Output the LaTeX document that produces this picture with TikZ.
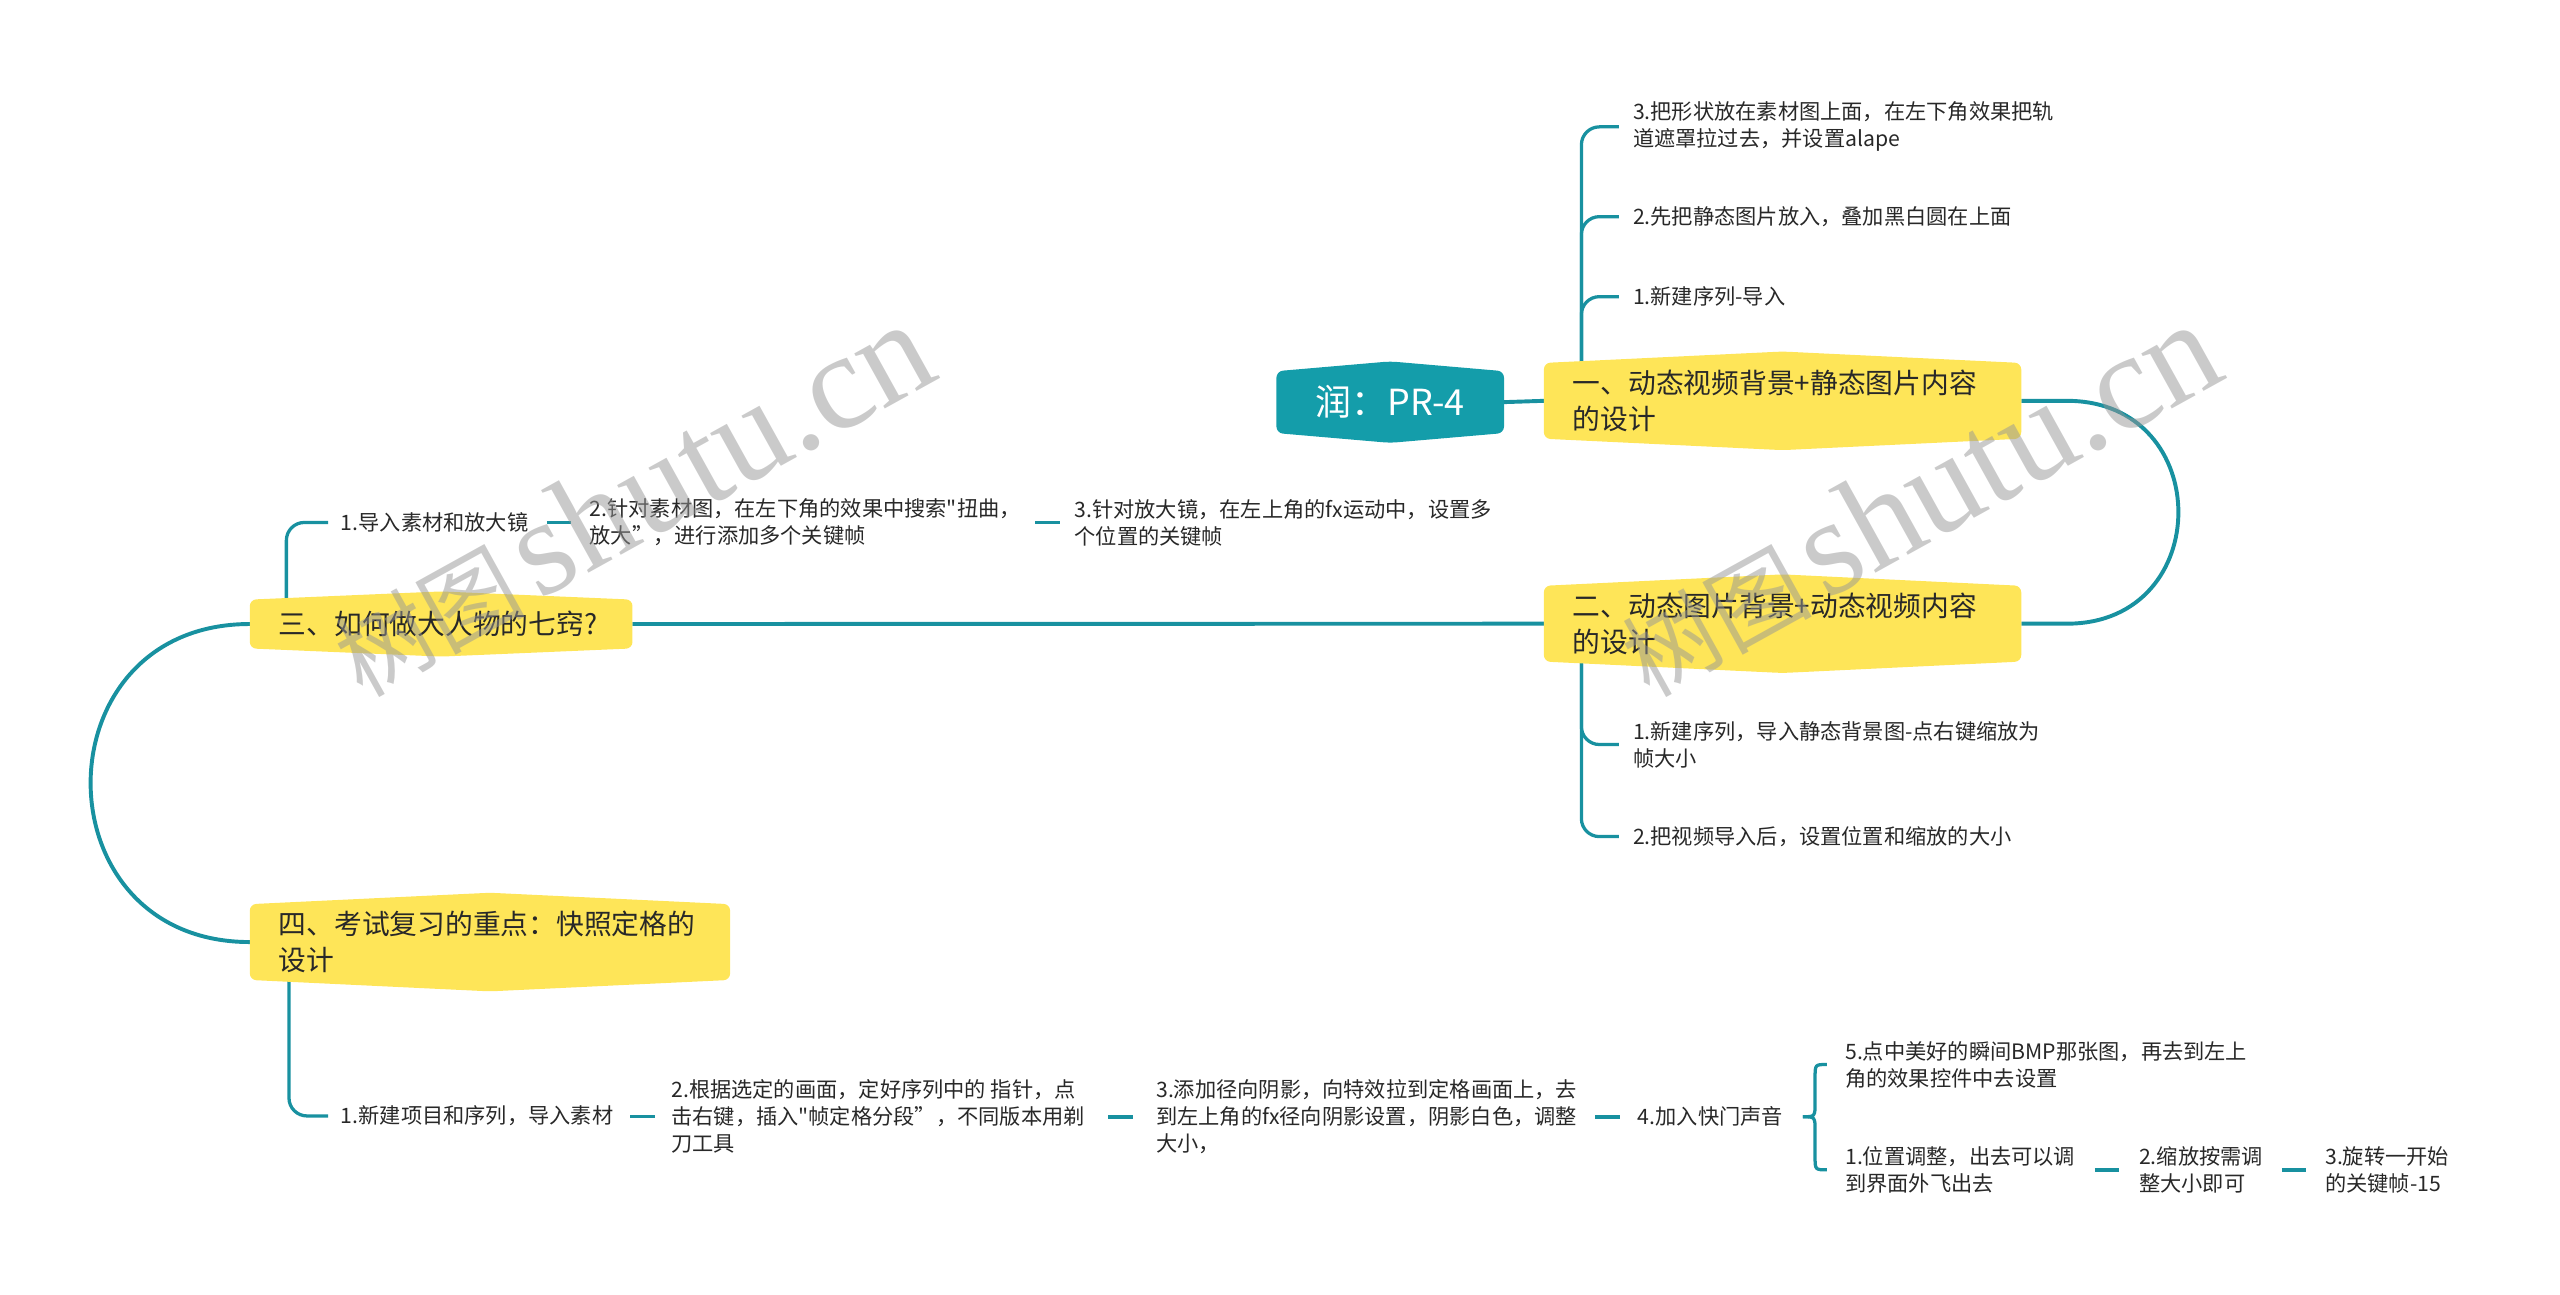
\documentclass[tikz,border=0pt]{standalone}
\usepackage{fontspec}
\setmainfont{Noto Sans CJK SC}[Ligatures=TeXOff]
\newfontfamily\wmcjk{Noto Sans CJK SC}
\newfontfamily\wmlat{Liberation Serif}
\usetikzlibrary{calc}
\pgfdeclarelayer{lyrA}
\pgfdeclarelayer{lyrB}
\pgfsetlayers{lyrA,lyrB,main}
\definecolor{teal1}{RGB}{24,145,160}
\definecolor{rootc}{RGB}{20,157,170}
\definecolor{yel}{RGB}{254,229,88}
\definecolor{txt}{RGB}{40,40,40}
\definecolor{wmc}{RGB}{150,150,150}
\newcommand\fmain{\fontsize{17}{22.4}\selectfont}
\newcommand\fleaf{\fontsize{13}{16.5}\selectfont}
\newcommand\froot{\fontsize{22}{26}\selectfont}
\newcommand\hexfill[3]{\fill[#2, rounded corners=4pt] (#1.north west) -- ($(#1.north)+(0,-#3)$) -- (#1.north east) -- (#1.south east) -- ($(#1.south)+(0,#3)$) -- (#1.south west) -- cycle;}
\newcommand\dsh[2]{\draw[dashc] ($(#1.east)!0.5!(#2.west)+(-7.5,0)$) -- ($(#1.east)!0.5!(#2.west)+(7.5,0)$);}
\begin{document}
\begin{tikzpicture}[x=1pt, y=-1pt,
  mainbox/.style={anchor=west, inner xsep=17.6pt, inner ysep=0pt, minimum height=46pt, align=left, text=txt, font=\fmain},
  leaf/.style={anchor=west, inner sep=0pt, align=left, text=txt, font=\fleaf},
  mline/.style={draw=teal1, line width=2.4pt},
  bline/.style={draw=teal1, line width=2pt, rounded corners=11pt},
  dline/.style={draw=teal1, line width=2pt},
  dashc/.style={draw=teal1, line width=2.2pt},
  wm/.style={rotate=29, anchor=base west, inner sep=0pt, text=wmc, opacity=0.5}]
\useasboundingbox (0,0) rectangle (1568,793);

% main nodes
\node[font=\froot, text=white, minimum width=139pt, minimum height=37.5pt, inner sep=0pt] (root) at (851.5,246.3) {润：PR-4};
\node[mainbox, text width=256.8pt] (n1) at (945.6,245.5) {一、动态视频背景+静态图片内容\\的设计};
\node[mainbox, text width=256.8pt] (n2) at (945.6,382) {二、动态图片背景+动态视频内容\\的设计};
\node[mainbox, text width=198.8pt, minimum height=29.5pt] (n3) at (153,382.2) {三、如何做大人物的七窍?};
\node[mainbox, text width=258.6pt] (n4) at (153,577) {四、考试复习的重点：快照定格的\\设计};

% leaves
\node[leaf] (c13) at (1000,77.7) {3.把形状放在素材图上面，在左下角效果把轨\\道遮罩拉过去，并设置alape};
\node[leaf] (c12) at (1000,132.7) {2.先把静态图片放入，叠加黑白圆在上面};
\node[leaf] (c11) at (1000,181.7) {1.新建序列-导入};
\node[leaf] (c21) at (1000,456) {1.新建序列，导入静态背景图-点右键缩放为\\帧大小};
\node[leaf] (c22) at (1000,512.4) {2.把视频导入后，设置位置和缩放的大小};
\node[leaf] (c31) at (208.6,320) {1.导入素材和放大镜};
\node[leaf] (c32) at (361,320) {2.针对素材图，在左下角的效果中搜索"扭曲，\\放大”，进行添加多个关键帧};
\node[leaf] (c33) at (658,320) {3.针对放大镜，在左上角的fx运动中，设置多\\个位置的关键帧};
\node[leaf] (c41) at (208.6,683.5) {1.新建项目和序列，导入素材};
\node[leaf] (c42) at (411,684) {2.根据选定的画面，定好序列中的 指针，点\\击右键，插入"帧定格分段”，不同版本用剃\\刀工具};
\node[leaf] (c43) at (708,684) {3.添加径向阴影，向特效拉到定格画面上，去\\到左上角的fx径向阴影设置，阴影白色，调整\\大小，};
\node[leaf] (c44) at (1003,684) {4.加入快门声音};
\node[leaf] (c45) at (1130,652) {5.点中美好的瞬间BMP那张图，再去到左上\\角的效果控件中去设置};
\node[leaf] (c46) at (1130,716.5) {1.位置调整，出去可以调\\到界面外飞出去};
\node[leaf] (c47) at (1310,716.5) {2.缩放按需调\\整大小即可};
\node[leaf] (c48) at (1424,716.5) {3.旋转一开始\\的关键帧-15};

\begin{pgfonlayer}{lyrA}
\draw[mline] (root.east) -- (n1.west);
\draw[mline] (n1.east) -- ($(n1.east)+(28,0)$) .. controls ($(n1.east)+(119,0)$) and ($(n2.east)+(119,0)$) .. ($(n2.east)+(28,0)$) -- (n2.east);
\draw[mline] (n2.west) -- (n3.east);
\draw[mline] (n3.west) .. controls ($(n3.west)+(-130,0)$) and ($(n4.west)+(-130,0)$) .. (n4.west);
\coordinate (t1) at ($(n1.west)+(23,0)$);
\coordinate (t2) at ($(n2.west)+(23,0)$);
\coordinate (t3) at ($(n3.west)+(22.4,0)$);
\coordinate (t4) at ($(n4.west)+(24,0)$);
\draw[bline] (t1) |- ($(c13.west)+(-8.5,0)$);
\draw[bline] (t1) |- ($(c12.west)+(-8.5,0)$);
\draw[bline] (t1) |- ($(c11.west)+(-8.5,0)$);
\draw[bline] (t2) |- ($(c21.west)+(-8.5,0)$);
\draw[bline] (t2) |- ($(c22.west)+(-8.5,0)$);
\draw[bline] (t3) |- ($(c31.west)+(-7.6,0)$);
\draw[bline] (t4) |- ($(c41.west)+(-7.6,0)$);
\end{pgfonlayer}

\dsh{c31}{c32}
\dsh{c32}{c33}
\dsh{c41}{c42}
\dsh{c42}{c43}
\dsh{c43}{c44}
\dsh{c46}{c47}
\dsh{c47}{c48}

\coordinate (bt) at ($(c44.east)+(12,0)$);
\draw[dline] (bt) .. controls ($(bt)+(7.5,0)$) .. ($(bt)+(7.5,-9)$) -- ($(bt |- c45.west)+(7.5,8)$) .. controls ($(bt |- c45.west)+(7.5,0)$) .. ($(c45.west)+(-11,0)$);
\draw[dline] (bt) .. controls ($(bt)+(7.5,0)$) .. ($(bt)+(7.5,9)$) -- ($(bt |- c46.west)+(7.5,-8)$) .. controls ($(bt |- c46.west)+(7.5,0)$) .. ($(c46.west)+(-11,0)$);

\begin{pgfonlayer}{lyrB}
\hexfill{root}{rootc}{6}
\hexfill{n1}{yel}{7}
\hexfill{n2}{yel}{7}
\hexfill{n3}{yel}{5}
\hexfill{n4}{yel}{7}
\end{pgfonlayer}

% watermarks
\node[wm] (wm1) at (222,428) {{\wmcjk\fontsize{58}{58}\selectfont 树图}\hspace{8pt}{\wmlat\fontsize{84}{84}\selectfont shutu.cn}};
\node[wm] (wm2) at (1010,428) {{\wmcjk\fontsize{58}{58}\selectfont 树图}\hspace{8pt}{\wmlat\fontsize{84}{84}\selectfont shutu.cn}};
\end{tikzpicture}
\end{document}
